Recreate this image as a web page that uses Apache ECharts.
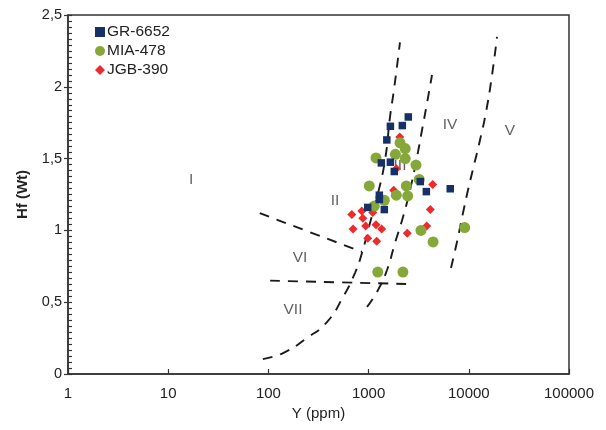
<!DOCTYPE html>
<html>
<head>
<meta charset="utf-8">
<script src="https://cdn.jsdelivr.net/npm/echarts@6/dist/echarts.min.js"></script>
<style>
  html, body { margin: 0; padding: 0; background: #fff; }
  #chart { width: 606px; height: 430px; }
</style>
</head>
<body>
<div id="chart"></div>
<script>
// Sample points: [Y (ppm), Hf (Wt)]
const gr6652 = [
  [2490, 1.79], [1650, 1.725], [2170, 1.73], [1520, 1.63], [1340, 1.47],
  [1650, 1.475], [1805, 1.41], [3280, 1.34], [3770, 1.27], [6530, 1.29],
  [1280, 1.245], [1280, 1.215], [980, 1.16], [1435, 1.145]
];
const mia478 = [
  [2060, 1.61], [2320, 1.57], [1850, 1.53], [1185, 1.505], [2320, 1.5],
  [2970, 1.455], [3200, 1.355], [1015, 1.31], [2380, 1.31], [1890, 1.245],
  [2455, 1.24], [1435, 1.21], [1140, 1.17], [3330, 1.0], [4400, 0.92],
  [9100, 1.02], [1235, 0.71], [2200, 0.71]
];
const jgb390 = [
  [2045, 1.65], [1890, 1.43], [1780, 1.28], [4360, 1.32], [680, 1.11],
  [855, 1.135], [1100, 1.125], [875, 1.085], [700, 1.01], [935, 1.03],
  [1185, 1.04], [1350, 1.01], [980, 0.945], [1205, 0.925], [4130, 1.145],
  [3800, 1.03], [2430, 0.98]
];

// Field boundaries (dashed)
const boundaryA = [[82, 1.12], [860, 0.85]];
const boundaryB = [[104, 0.65], [2400, 0.627]];
const boundaryC = [
  [88, 0.104], [140, 0.146], [243, 0.251], [384, 0.362], [556, 0.536],
  [731, 0.703], [859, 0.843], [1033, 1.052], [1242, 1.26], [1459, 1.49],
  [1636, 1.79], [1791, 1.98], [2057, 2.31]
];
const boundaryD = [
  [964, 0.467], [1242, 0.585], [1527, 0.724], [1834, 0.912], [2205, 1.093],
  [2590, 1.281], [3042, 1.511], [3413, 1.699], [3830, 1.887], [4295, 2.082]
];
const boundaryE = [
  [6640, 0.738], [7620, 0.919], [8750, 1.121], [9820, 1.281], [11270, 1.455],
  [12940, 1.63], [14860, 1.825], [17060, 2.082], [19110, 2.347]
];

// Field names
const fieldLabels = [
  [16.9, 1.35, 'I'], [462, 1.21, 'II'], [2057, 1.448, 'III'], [6490, 1.734, 'IV'],
  [25760, 1.692, 'V'], [207, 0.808, 'VI'], [176, 0.446, 'VII']
];

const xTicks = ['1', '10', '100', '1000', '10000', '100000'];

const FONT = '"Liberation Sans", Arial, sans-serif';
const dashStyle = { color: '#1a1a1a', width: 1.9, type: [10, 8] };

function boundary(data) {
  return {
    type: 'line', data: data, smooth: true, symbol: 'none', silent: true,
    lineStyle: dashStyle, z: 1
  };
}

const chart = echarts.init(document.getElementById('chart'), null, { renderer: 'canvas' });
chart.setOption({
  animation: false,
  backgroundColor: '#fff',
  textStyle: { fontFamily: FONT },
  grid: {
    left: 68, right: 37, top: 15, bottom: 56,
    show: true, borderColor: '#333', borderWidth: 1.5
  },
  legend: {
    orient: 'vertical', left: 90, top: 19, itemGap: 3,
    itemWidth: 10, itemHeight: 10,
    textStyle: { fontFamily: FONT, fontSize: 15.5, color: '#222', padding: [0, 0, 0, -3] },
    data: [
      { name: 'GR-6652', icon: 'rect' },
      { name: 'MIA-478', icon: 'circle' },
      { name: 'JGB-390', icon: 'diamond' }
    ]
  },
  xAxis: {
    type: 'log', logBase: 10, min: 1, max: 100000,
    name: 'Y (ppm)', nameLocation: 'middle', nameGap: 31,
    nameTextStyle: { fontFamily: FONT, fontSize: 15, color: '#222' },
    axisLine: { lineStyle: { color: '#333', width: 1.5 } },
    axisTick: { inside: true, length: 5, lineStyle: { color: '#333', width: 1.2 } },
    axisLabel: {
      fontFamily: FONT, fontSize: 15, color: '#222', margin: 12,
      formatter: function (v) {
        const i = Math.round(Math.log10(v));
        return xTicks[i] !== undefined ? xTicks[i] : '';
      }
    },
    splitLine: { show: false }
  },
  yAxis: [{
    type: 'value', min: 0, max: 2.5, interval: 0.5,
    name: 'Hf (Wt)', nameLocation: 'middle', nameGap: 38,
    nameTextStyle: { fontFamily: FONT, fontSize: 15, fontWeight: 'bold', color: '#222' },
    axisLine: { show: true, lineStyle: { color: '#333', width: 1.5 } },
    axisTick: { show: true, inside: true, length: 4, lineStyle: { color: '#333', width: 1.2 } },
    minorTick: { show: true, splitNumber: 12, length: 4, lineStyle: { color: '#333', width: 1.2 } },
    axisLabel: {
      fontFamily: FONT, fontSize: 14.5, color: '#222', margin: 6,
      formatter: function (v) { return String(v).replace('.', ','); }
    },
    splitLine: { show: false }
  }, {
    type: 'value', min: 0, max: 2.5, interval: 0.5, position: 'left',
    axisLine: { show: false },
    axisTick: { show: true, inside: false, length: 4, lineStyle: { color: '#333', width: 1.2 } },
    axisLabel: { show: false },
    splitLine: { show: false }
  }],
  series: [
    {
      name: 'fields', type: 'scatter', data: fieldLabels, symbolSize: 0, silent: true, z: 0,
      label: {
        show: true, position: 'inside', fontFamily: FONT, fontSize: 15.5, color: '#3a3a3a',
        formatter: function (p) { return p.data[2]; }
      }
    },
    boundary(boundaryA), boundary(boundaryB), boundary(boundaryC),
    boundary(boundaryD), boundary(boundaryE),
    {
      name: 'JGB-390', type: 'scatter', data: jgb390, symbol: 'diamond', symbolSize: 9,
      itemStyle: { color: '#ee2a2a', opacity: 1 }, z: 3
    },
    {
      name: 'MIA-478', type: 'scatter', data: mia478, symbol: 'circle', symbolSize: 11,
      itemStyle: { color: '#86a83a', opacity: 1 }, z: 4
    },
    {
      name: 'GR-6652', type: 'scatter', data: gr6652, symbol: 'rect', symbolSize: 7.5,
      itemStyle: { color: '#153168', opacity: 1 }, z: 5
    }
  ]
});
</script>
</body>
</html>
